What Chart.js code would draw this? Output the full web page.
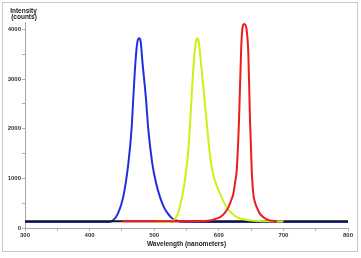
<!DOCTYPE html>
<html>
<head>
<meta charset="utf-8">
<script src="https://cdn.jsdelivr.net/npm/chart.js@4"></script>
<style>
  html, body { margin: 0; padding: 0; background: #fff; }
</style>
</head>
<body>
<canvas id="spectrumChart" width="361" height="258"></canvas>
<script>
// Emission spectra
const blueNm = [300, 350, 400, 430, 436, 444, 452, 460, 465, 468, 471, 474, 477, 479, 482, 487, 491, 497, 503, 509, 515, 521, 528, 535, 545, 600, 700, 800];
const blueCounts = [120, 120, 120, 122, 150, 293, 622, 1303, 2000, 2700, 3350, 3750, 3822, 3760, 3317, 2642, 1970, 1303, 900, 622, 420, 293, 190, 145, 125, 120, 120, 120];

const yellowNm = [500, 520, 528, 533, 537, 541, 545, 549, 553, 556, 559, 562, 565, 567, 569, 571, 576, 581, 586, 591, 596, 602, 612, 620, 628, 640, 655, 675, 700];
const yellowCounts = [130, 132, 140, 200, 300, 500, 750, 1100, 1600, 2200, 2900, 3450, 3780, 3822, 3750, 3519, 2844, 2172, 1499, 1095, 880, 691, 420, 300, 218, 170, 145, 135, 130];

const redNm = [450, 560, 580, 586, 594, 602, 609, 615, 619, 622.5, 625, 627.7, 631.3, 634.4, 636, 639.5, 643, 645.7, 648.3, 651, 653.4, 656, 658.7, 663, 669, 679, 690];
const redCounts = [137, 137, 140, 150, 180, 218, 300, 420, 550, 691, 900, 1162, 2172, 3519, 3950, 4111, 4000, 3519, 2172, 1162, 691, 520, 420, 300, 218, 150, 137];

const blackNm = [300, 400, 500, 600, 700, 800];
const blackCounts = [137, 137, 137, 137, 137, 137];

// tick positions (labels shown on every second one)
const xTicks = [300, 350, 400, 450, 500, 550, 600, 650, 700, 750, 800];
const yTicks = [0, 500, 1000, 1500, 2000, 2500, 3000, 3500, 4000];

const toPoints = (xs, ys) => xs.map((x, i) => ({ x: x, y: ys[i] }));

// frame + y axis title at the top left
const decorations = {
  id: 'decorations',
  beforeDraw(chart) {
    const c = chart.ctx;
    c.save();
    c.fillStyle = '#fff';
    c.fillRect(0, 0, chart.width, chart.height);
    c.strokeStyle = '#c8c8c8';
    c.lineWidth = 1;
    c.strokeRect(2.5, 2.5, 355, 249);
    c.restore();
  },
  afterDraw(chart) {
    const c = chart.ctx;
    c.save();
    c.fillStyle = '#222';
    c.font = 'bold 6.5px "Liberation Sans", Arial, sans-serif';
    c.textAlign = 'center';
    c.textBaseline = 'middle';
    c.fillText('Intensity', 23.5, 11);
    c.fillText('(counts)', 24, 17.5);
    c.restore();
  }
};

const tickFont = { family: '"Liberation Sans", Arial, sans-serif', size: 6, weight: 'bold' };

const ctx = document.getElementById('spectrumChart');
const spectrumChart = new Chart(ctx, {
  type: 'line',
  data: {
    datasets: [
      { data: toPoints(redNm, redCounts), borderColor: '#ee1c1c' },
      { data: toPoints(yellowNm, yellowCounts), borderColor: '#ccf213' },
      { data: toPoints(blackNm, blackCounts), borderColor: '#151520' },
      { data: toPoints(blueNm, blueCounts), borderColor: '#2030e0' },
    ]
  },
  options: {
    responsive: false,
    animation: false,
    devicePixelRatio: 1,
    layout: {
      padding: { top: 22, right: 13, left: 0, bottom: 0 },
    },
    elements: {
      point: { radius: 0 },
      line: { borderWidth: 2, cubicInterpolationMode: 'monotone', fill: false },
    },
    plugins: {
      legend: { display: false },
      tooltip: { enabled: false },
    },
    scales: {
      x: {
        type: 'linear',
        min: 300,
        max: 800,
        afterFit: (scale) => { scale.height = 30; },
        afterBuildTicks: (scale) => { scale.ticks = xTicks.map((v) => ({ value: v })); },
        border: { color: '#a8a8a8', width: 1 },
        grid: { drawOnChartArea: false, color: '#b0b0b0', tickLength: 3 },
        ticks: {
          autoSkip: false,
          maxRotation: 0,
          padding: 1,
          color: '#333',
          font: tickFont,
          callback: (v) => (v % 100 === 0 ? String(v) : ''),
        },
        title: {
          display: true,
          text: 'Wavelength (nanometers)',
          color: '#222',
          padding: { top: 0, bottom: 10 },
          font: { family: '"Liberation Sans", Arial, sans-serif', size: 6.5, weight: 'bold' },
        },
      },
      y: {
        min: 0,
        max: 4150,
        afterFit: (scale) => { scale.width = 25; },
        afterBuildTicks: (scale) => { scale.ticks = yTicks.map((v) => ({ value: v })); },
        border: { color: '#a8a8a8', width: 1 },
        grid: { drawOnChartArea: false, color: '#b0b0b0', tickLength: 3 },
        ticks: {
          autoSkip: false,
          padding: 1,
          color: '#333',
          font: tickFont,
          callback: (v) => (v % 1000 === 0 ? String(v) : ''),
        },
      },
    },
  },
  plugins: [decorations],
});
</script>
</body>
</html>
